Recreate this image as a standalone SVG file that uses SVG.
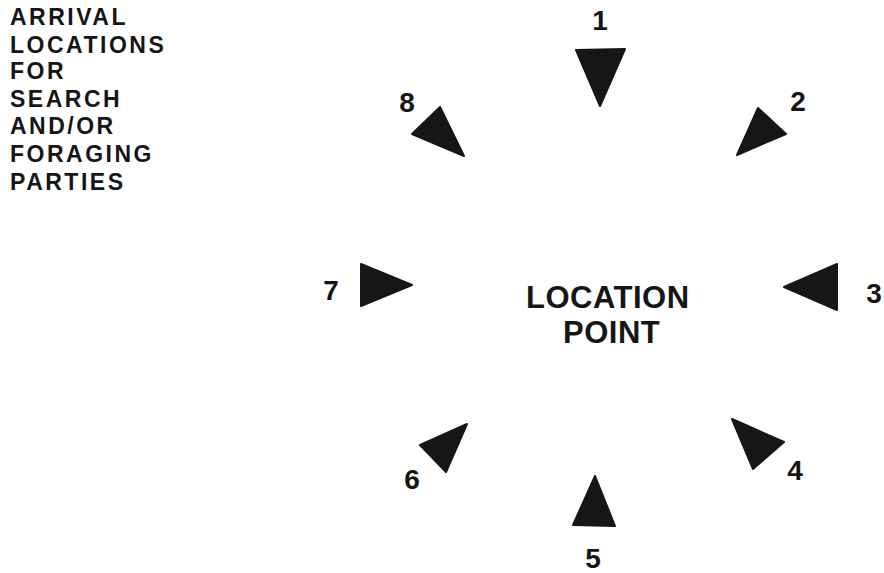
<svg xmlns="http://www.w3.org/2000/svg" width="884" height="573" viewBox="0 0 884 573">
<style>
.t{font-family:"Liberation Sans",Arial,sans-serif;font-weight:bold;fill:#161616}
.cap{font-size:23px;letter-spacing:2.5px}
.ctr{font-size:31px;letter-spacing:0.5px}
.num{font-size:28px;text-anchor:middle}
.arr{fill:#161616;stroke:#161616;stroke-width:2;stroke-linejoin:round}
</style>
<rect width="884" height="573" fill="#ffffff"/>
<g id="caption">
<text class="t cap" x="10" y="25">ARRIVAL</text>
<text class="t cap" x="10" y="53">LOCATIONS</text>
<text class="t cap" x="10" y="79">FOR</text>
<text class="t cap" x="10" y="107">SEARCH</text>
<text class="t cap" x="10" y="134">AND/OR</text>
<text class="t cap" x="10" y="162">FORAGING</text>
<text class="t cap" x="10" y="190">PARTIES</text>
</g>
<g id="location-point">
<text class="t ctr" x="526" y="308">LOCATION</text>
<text class="t ctr" x="563" y="343">POINT</text>
</g>
<g id="arrival-1">
<polygon class="arr" points="576,50 625,49 600,106"/>
<text class="t num" x="600" y="30">1</text>
</g>
<g id="arrival-2">
<polygon class="arr" points="758,108 786,134 737,155"/>
<text class="t num" x="798" y="111">2</text>
</g>
<g id="arrival-3">
<polygon class="arr" points="837,264 837,310 784,287"/>
<text class="t num" x="874" y="303">3</text>
</g>
<g id="arrival-4">
<polygon class="arr" points="732,419 784,442 753,469"/>
<text class="t num" x="795" y="480">4</text>
</g>
<g id="arrival-5">
<polygon class="arr" points="595,476 615,526 573,525"/>
<text class="t num" x="593" y="568">5</text>
</g>
<g id="arrival-6">
<polygon class="arr" points="467,424 446,472 420,445"/>
<text class="t num" x="412" y="489">6</text>
</g>
<g id="arrival-7">
<polygon class="arr" points="361,264 412,285 361,306"/>
<text class="t num" x="331" y="300">7</text>
</g>
<g id="arrival-8">
<polygon class="arr" points="440,107 464,156 412,134"/>
<text class="t num" x="407" y="112">8</text>
</g>
<g id="connectors"/>
</svg>
